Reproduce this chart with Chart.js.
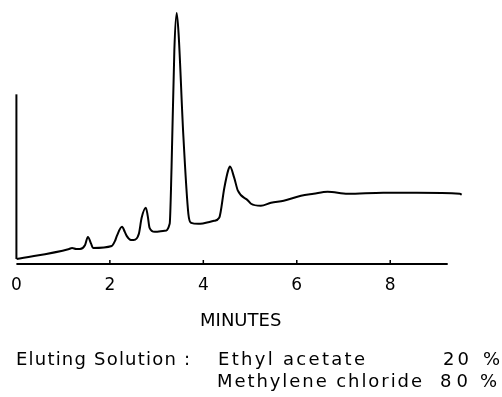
<!DOCTYPE html>
<html>
<head>
<meta charset="utf-8">
<script src="https://cdn.jsdelivr.net/npm/chart.js@4/dist/chart.umd.min.js"></script>
<style>
  html, body { margin: 0; padding: 0; background: #fff; }
  #wrap { width: 502px; height: 397px; position: relative; }
</style>
</head>
<body>
<div id="wrap"><canvas id="chart" width="502" height="397"></canvas></div>
<script>
// retention time (minutes) and detector response
var minutes = [0, 1.13, 1.19, 1.28, 1.36, 1.47, 1.53, 1.60, 1.64, 2.04, 2.11, 2.15, 2.26, 2.32, 2.36, 2.45, 2.51,
  2.62, 2.68, 2.77, 2.81, 2.85, 2.96, 3.17, 3.28, 3.32, 3.38, 3.43, 3.47, 3.57, 3.68, 3.74, 3.89, 4.23, 4.34,
  4.45, 4.53, 4.57, 4.66, 4.74, 4.96, 5.02, 5.23, 5.45, 5.72, 6.09, 6.36, 6.66, 7.09, 7.85, 8.57, 9.49, 9.53]
var response = [0, 10, 11, 10, 10, 14, 22, 15, 11, 13, 18, 23, 32, 27, 23, 19, 19,
  25, 41, 51, 43, 31, 27, 28, 35, 91, 208, 245, 225, 125, 45, 36, 35, 38, 41,
  71, 88, 92, 81, 68, 58, 55, 53, 56, 58, 63, 65, 67, 65, 66, 66, 65, 64]

var xTicks = [0, 2, 4, 6, 8]
var xAxisEnd = 9.23
var yAxisTop = 164
var xTitle = 'MINUTES'
var solventLabel = 'Eluting Solution :'
var solvents = ['Ethyl acetate', 'Methylene chloride']
var solventPct = ['20', '80']

var FONT = '"DejaVu Sans", sans-serif'

//Draws text stretched over a given width by adding space between letters
function spaced(ctx, text, x, y, width) {
    let natural = ctx.measureText(text).width
    let gap = text.length > 1 ? (width - natural) / (text.length - 1) : 0
    for (let ch of text) {
        ctx.fillText(ch, x, y)
        x += ctx.measureText(ch).width + gap
    }
}

//Hand drawn axis lines, plus the eluent note under the chart
var axesPlugin = {
    id: 'axesPlugin',
    afterDraw: (chart) => {
        let ctx = chart.ctx
        let xs = chart.scales.x
        let ys = chart.scales.y
        let x0 = xs.getPixelForValue(0)
        let yb = chart.chartArea.bottom
        ctx.save()
        ctx.strokeStyle = '#000'
        ctx.lineWidth = 2
        ctx.beginPath()
        ctx.moveTo(x0, ys.getPixelForValue(0))
        ctx.lineTo(x0, ys.getPixelForValue(yAxisTop))
        ctx.stroke()
        ctx.beginPath()
        ctx.moveTo(x0, yb)
        ctx.lineTo(xs.getPixelForValue(xAxisEnd), yb)
        ctx.stroke()
        ctx.lineWidth = 1.5
        xTicks.forEach((t) => {
            if (t == 0) return
            let px = xs.getPixelForValue(t)
            ctx.beginPath()
            ctx.moveTo(px, yb)
            ctx.lineTo(px, yb - 4)
            ctx.stroke()
        })

        ctx.fillStyle = '#000'
        ctx.font = '18px ' + FONT
        ctx.textBaseline = 'alphabetic'
        ctx.textAlign = 'left'
        spaced(ctx, solventLabel, 16, 365, 174)
        spaced(ctx, solvents[0], 218, 365, 147)
        spaced(ctx, solventPct[0], 443, 365, 26)
        ctx.fillText('%', 483, 365)
        spaced(ctx, solvents[1], 217, 387, 205)
        spaced(ctx, solventPct[1], 440, 387, 28)
        ctx.fillText('%', 480, 387)
        ctx.restore()
    }
}

new Chart(document.getElementById('chart'), {
    type: 'line',
    data: {
        datasets: [{
            data: minutes.map((m, i) => ({ x: m, y: response[i] })),
            borderColor: '#000',
            borderWidth: 2,
            pointRadius: 0,
            cubicInterpolationMode: 'monotone',
            fill: false
        }]
    },
    options: {
        responsive: false,
        animation: false,
        layout: { padding: { left: 14, right: 37, top: 8, bottom: 61 } },
        plugins: { legend: { display: false }, tooltip: { enabled: false } },
        scales: {
            x: {
                type: 'linear',
                min: 0,
                max: 9.6,
                afterBuildTicks: (scale) => { scale.ticks = xTicks.map((v) => ({ value: v })) },
                grid: { display: false, drawTicks: false },
                border: { display: false },
                ticks: {
                    color: '#000',
                    padding: 11,
                    maxRotation: 0,
                    font: { family: FONT, size: 17 }
                },
                title: {
                    display: true,
                    text: xTitle,
                    color: '#000',
                    padding: { top: 4, bottom: 4 },
                    font: { family: FONT, size: 18 }
                }
            },
            y: {
                display: false,
                min: -5,
                max: 250
            }
        }
    },
    plugins: [axesPlugin]
})
</script>
</body>
</html>
